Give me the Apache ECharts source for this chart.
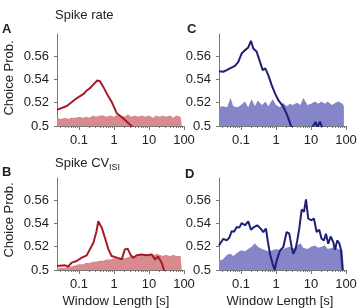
<!DOCTYPE html>
<html>
<head>
<meta charset="utf-8">
<script src="https://cdn.jsdelivr.net/npm/echarts@6/dist/echarts.min.js"></script>
<style>
html, body { margin: 0; padding: 0; background: #fff; }
#chart { width: 361px; height: 308px; }
</style>
</head>
<body>
<div id="chart"></div>
<script>
// window lengths in seconds, choice probability values
var bandWin = [0.0234, 0.03, 0.04, 0.05, 0.06, 0.08, 0.1, 0.13, 0.16, 0.2, 0.25, 0.3, 0.4, 0.5, 0.6, 0.8,
	1, 1.3, 1.6, 2, 2.5, 3, 4, 5, 6, 8, 10, 13, 16, 20, 25, 30, 40, 50, 60, 80, 87]

// shuffled (chance) levels
var rateBandA = [0.507, 0.506, 0.507, 0.506, 0.507, 0.507, 0.508, 0.507, 0.508, 0.507, 0.509, 0.508, 0.509, 0.509, 0.508, 0.509,
	0.508, 0.510, 0.509, 0.508, 0.510, 0.508, 0.509, 0.508, 0.509, 0.508, 0.509, 0.507, 0.509, 0.508, 0.509, 0.508, 0.509, 0.507, 0.509, 0.508, 0.509]
var cvBandB = [0.501, 0.502, 0.502, 0.503, 0.503, 0.504, 0.505, 0.505, 0.506, 0.506, 0.507, 0.507, 0.508, 0.508, 0.509, 0.509,
	0.510, 0.510, 0.511, 0.510, 0.511, 0.512, 0.511, 0.512, 0.513, 0.512, 0.513, 0.512, 0.514, 0.513, 0.512, 0.513, 0.512, 0.513, 0.512, 0.512, 0.512]
var rateBandC = [0.516, 0.517, 0.516, 0.524, 0.517, 0.516, 0.518, 0.521, 0.516, 0.523, 0.517, 0.522, 0.518, 0.521, 0.517, 0.523,
	0.518, 0.516, 0.520, 0.517, 0.519, 0.518, 0.520, 0.518, 0.524, 0.518, 0.519, 0.521, 0.519, 0.521, 0.519, 0.521, 0.518, 0.520, 0.521, 0.519, 0.517]
var cvBandD = [0.508, 0.509, 0.513, 0.514, 0.512, 0.515, 0.517, 0.516, 0.518, 0.520, 0.523, 0.520, 0.518, 0.517, 0.516, 0.517,
	0.518, 0.517, 0.518, 0.519, 0.520, 0.518, 0.521, 0.523, 0.519, 0.518, 0.520, 0.521, 0.519, 0.520, 0.521, 0.518, 0.519, 0.520, 0.518, 0.517, 0.517]

// A: spike rate, area 1
var rateWinA = [0.0234, 0.0447, 0.085, 0.132, 0.16, 0.204, 0.288, 0.331, 0.398, 0.49, 0.617, 0.851, 1.2, 1.82, 3.16, 5.5, 87]
var rateCpA = [0.5138, 0.5172, 0.5238, 0.5273, 0.5300, 0.5324, 0.5372, 0.5390, 0.5385, 0.5338, 0.5280, 0.5209, 0.5109, 0.5066, 0.5000, 0.4900, 0.4700]

// B: spike CV_ISI, area 1
var cvWinB = [0.0234, 0.0398, 0.049, 0.0617, 0.0851, 0.12, 0.166, 0.204, 0.257, 0.316, 0.355, 0.447, 0.55, 0.692, 0.851, 1.2,
	1.66, 2.04, 2.45, 3.02, 3.55, 4.47, 6.17, 8.51, 12, 14.8, 18.2, 22.9, 26.9, 30.2, 87]
var cvCpB = [0.5034, 0.5040, 0.5030, 0.5063, 0.5077, 0.5106, 0.5126, 0.5177, 0.5234, 0.5333, 0.5419, 0.5362, 0.5277, 0.5177, 0.5120, 0.5106,
	0.5091, 0.5177, 0.5183, 0.5126, 0.5106, 0.5126, 0.5134, 0.5126, 0.5134, 0.5091, 0.5115, 0.5063, 0.5000, 0.4950, 0.4800]

// C: spike rate, area 2
var rateWinC = [0.0234, 0.0311, 0.0389, 0.0483, 0.0671, 0.0834, 0.1045, 0.121, 0.138, 0.161, 0.192, 0.224, 0.28, 0.348, 0.416, 0.493,
	0.601, 0.752, 0.933, 1.16, 1.61, 2.09, 2.62, 3.48, 10.6, 13.4, 15.3, 18.0, 21.2, 87]
var rateCpC = [0.5471, 0.5466, 0.5480, 0.5495, 0.5517, 0.5551, 0.5623, 0.5643, 0.5628, 0.5675, 0.5732, 0.5666, 0.5637, 0.5551, 0.5480, 0.5495,
	0.5437, 0.5351, 0.5280, 0.5223, 0.5166, 0.5094, 0.5009, 0.4950, 0.4980, 0.5035, 0.4990, 0.5038, 0.4980, 0.4900]

// D: spike CV_ISI, area 2
var cvWinD = [0.0234, 0.0262, 0.0311, 0.0389, 0.0461, 0.0541, 0.063, 0.0752, 0.0891, 0.1045, 0.13, 0.161, 0.192, 0.234, 0.291, 0.364,
	0.433, 0.516, 0.577, 0.671, 0.802, 0.914, 1.04, 1.3, 1.61, 2.01, 2.39, 2.8, 3.11, 3.64, 4.05, 4.61, 5.41, 6.3, 7.18, 8.34,
	9.98, 12.1, 14.5, 17.2, 20.1, 23.4, 26.7, 31.1, 36.4, 43.3, 48.3, 56.2, 64.1, 71.8, 80.2]
var cvCpD = [0.5210, 0.5204, 0.5268, 0.5254, 0.5277, 0.5334, 0.5329, 0.5369, 0.5364, 0.5403, 0.5384, 0.5418, 0.5346, 0.5369, 0.5384, 0.5355,
	0.5326, 0.5355, 0.5254, 0.5139, 0.5052, 0.5000, 0.5080, 0.5167, 0.5196, 0.5326, 0.5312, 0.5196, 0.5139, 0.5182, 0.5254, 0.5355,
	0.5519, 0.5499, 0.5606, 0.5442, 0.5427, 0.5442, 0.5326, 0.5346, 0.5268, 0.5254, 0.5312, 0.5225, 0.5288, 0.5239, 0.5173, 0.5254,
	0.5230, 0.5173, 0.5000]

var xTickSec = [0.1, 1, 10, 100]
var yTicks = [0.5, 0.52, 0.54, 0.56]

var FONT = 'Liberation Sans, Arial, Helvetica, sans-serif'
var TXT = '#222'
var AX = '#777'
var X_MIN = -1.63, X_MAX = 2
var RED = '#a51d24', RED_FILL = '#d98a8e'
var BLUE = '#1f1f78', BLUE_FILL = '#8585c9'

// A, C, B, D
var panels = [
	{ left: 57, top: 34, win: rateWinA, cp: rateCpA, band: rateBandA, color: RED, fill: RED_FILL },
	{ left: 219, top: 34, win: rateWinC, cp: rateCpC, band: rateBandC, color: BLUE, fill: BLUE_FILL },
	{ left: 57, top: 178, win: cvWinB, cp: cvCpB, band: cvBandB, color: RED, fill: RED_FILL },
	{ left: 219, top: 178, win: cvWinD, cp: cvCpD, band: cvBandD, color: BLUE, fill: BLUE_FILL }
]

function toPairs(win, vals) {
	return win.map(function (w, k) { return [Math.log10(w), vals[k]] })
}

// log minor tick positions (2..9 per decade)
var minorTicks = []
for (var d = -2; d <= 1; d++) {
	for (var m = 2; m <= 9; m++) {
		var p = Math.log10(m * Math.pow(10, d))
		if (p > X_MIN && p < X_MAX) minorTicks.push(p)
	}
}
var majorTicks = xTickSec.map(function (v) { return Math.log10(v) })

var grid = [], xAxis = [], yAxis = [], series = []
panels.forEach(function (p, i) {
	grid.push({ left: p.left, top: p.top, width: 127, height: 92 })
	xAxis.push({
		gridIndex: i, type: 'value', min: X_MIN, max: X_MAX,
		axisLine: { show: true, onZero: false, lineStyle: { color: AX, width: 1 } },
		axisTick: { show: true, customValues: majorTicks, length: 4, lineStyle: { color: AX } },
		axisLabel: {
			customValues: majorTicks, margin: 8, fontSize: 13, color: TXT, fontFamily: FONT,
			formatter: function (v) { return String(Math.pow(10, Math.round(v))) }
		},
		splitLine: { show: false }
	})
	// minor ticks only
	xAxis.push({
		gridIndex: i, type: 'value', min: X_MIN, max: X_MAX, position: 'bottom',
		axisLine: { show: false, onZero: false },
		axisTick: { show: true, customValues: minorTicks, length: 2, lineStyle: { color: AX } },
		axisLabel: { show: false },
		splitLine: { show: false }
	})
	yAxis.push({
		gridIndex: i, type: 'value', min: 0.5, max: 0.579,
		axisLine: { show: true, onZero: false, lineStyle: { color: AX, width: 1 } },
		axisTick: { show: true, customValues: yTicks, length: 3, lineStyle: { color: AX } },
		axisLabel: {
			customValues: yTicks, margin: 8, fontSize: 13, color: TXT, fontFamily: FONT,
			formatter: function (v) { return String(+v.toFixed(2)) }
		},
		splitLine: { show: false }
	})
	series.push({
		type: 'line', xAxisIndex: i * 2, yAxisIndex: i,
		data: toPairs(bandWin, p.band),
		showSymbol: false, silent: true, z: 1,
		lineStyle: { width: 0 },
		areaStyle: { color: p.fill, opacity: 1, origin: 'start' }
	})
	series.push({
		type: 'line', xAxisIndex: i * 2, yAxisIndex: i,
		data: toPairs(p.win, p.cp),
		showSymbol: false, silent: true, z: 2, clip: true,
		lineStyle: { width: 2, color: p.color },
		itemStyle: { color: p.color }
	})
})

function label(text, x, y, opts) {
	opts = opts || {}
	return {
		type: 'text', x: x, y: y, rotation: opts.rotation || 0, silent: true,
		style: {
			text: text, fill: TXT,
			font: (opts.bold ? 'bold ' : '') + (opts.size || 13) + 'px ' + FONT,
			align: opts.align || 'left', verticalAlign: 'middle'
		}
	}
}

var graphic = [
	label('Spike rate', 55, 15),
	label('A', 2, 29, { bold: true }),
	label('C', 187, 29, { bold: true }),
	label('Spike CV', 55, 163),
	label('ISI', 109, 168, { size: 9 }),
	label('B', 2, 172, { bold: true }),
	label('D', 185, 174, { bold: true }),
	label('Choice Prob.', 9, 78, { align: 'center', rotation: Math.PI / 2 }),
	label('Choice Prob.', 9, 220, { align: 'center', rotation: Math.PI / 2 }),
	label('Window Length [s]', 116, 301, { align: 'center' }),
	label('Window Length [s]', 280, 301, { align: 'center' })
]

var myChart = echarts.init(document.getElementById('chart'), null, { renderer: 'canvas' })
myChart.setOption({
	animation: false,
	grid: grid,
	xAxis: xAxis,
	yAxis: yAxis,
	series: series,
	graphic: graphic
})
</script>
</body>
</html>
